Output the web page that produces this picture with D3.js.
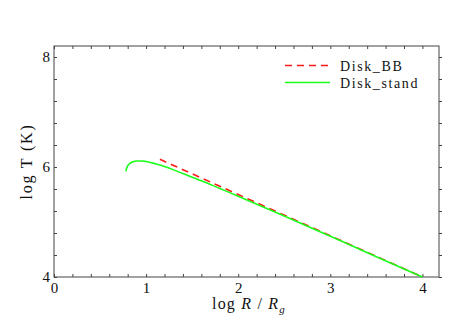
<!DOCTYPE html>
<html>
<head>
<meta charset="utf-8">
<script src="https://cdn.jsdelivr.net/npm/d3@7"></script>
<style>
  html, body { margin: 0; padding: 0; background: #fff; }
  svg { display: block; font-family: "Liberation Serif", "DejaVu Serif", serif; }
</style>
</head>
<body>
<svg id="chart"></svg>
<script>
// Data
const seriesNames = ['Disk_BB', 'Disk_stand'];
const seriesColors = ['#ff1a1a', '#1aff1a'];

const bbLogR = [1.15, 2.0, 3.0, 4.0];
const bbLogT = [6.14, 5.5, 4.75, 4.0];

const standLogR = [0.78, 0.79, 0.80, 0.82, 0.85, 0.90, 0.95, 1.0, 1.1, 1.2, 1.4, 1.6, 1.8, 2.0, 2.5, 3.0, 3.5, 4.0];
const standLogT = [5.92, 5.98, 6.02, 6.06, 6.09, 6.11, 6.11, 6.10, 6.06, 6.01, 5.88, 5.75, 5.61, 5.47, 5.11, 4.74, 4.37, 4.0];

const xTicks = [0, 1, 2, 3, 4];
const yTicks = [4, 6, 8];

const width = 458;
const height = 324;
const margin = { top: 46, right: 19, bottom: 47, left: 54 };

const svg = d3.select('#chart')
  .attr('width', width)
  .attr('height', height);

// Scales
const x = d3.scaleLinear()
  .domain([0, 4.18])
  .range([margin.left, width - margin.right]);

const y = d3.scaleLinear()
  .domain([4, 8.2])
  .range([height - margin.bottom, margin.top]);

const axisColor = '#444';
const textColor = '#111';

const xMinor = d3.range(0, 4.19, 0.2);
const yMinor = d3.range(4, 8.21, 0.4);

// Bottom axis (ticks inside)
svg.append('g')
  .attr('transform', `translate(0,${y.range()[0]})`)
  .call(d3.axisBottom(x).tickValues(xMinor).tickSize(-3).tickFormat(''))
  .call(g => g.select('.domain').remove())
  .attr('color', axisColor);

svg.append('g')
  .attr('transform', `translate(0,${y.range()[0]})`)
  .call(d3.axisBottom(x).tickValues(xTicks).tickSize(0).tickPadding(5).tickFormat(d3.format('d')))
  .call(g => g.select('.domain').remove())
  .selectAll('text')
  .attr('fill', textColor)
  .style('font-size', '15px')
  .style('font-family', '"Liberation Serif", serif');

// Top axis (ticks inside)
svg.append('g')
  .attr('transform', `translate(0,${y.range()[1]})`)
  .call(d3.axisTop(x).tickValues(xMinor).tickSize(-3).tickFormat(''))
  .call(g => g.select('.domain').remove())
  .attr('color', axisColor);

// Left axis (ticks inside)
svg.append('g')
  .attr('transform', `translate(${x.range()[0]},0)`)
  .call(d3.axisLeft(y).tickValues(yMinor).tickSize(-3).tickFormat(''))
  .call(g => g.select('.domain').remove())
  .attr('color', axisColor);

svg.append('g')
  .attr('transform', `translate(${x.range()[0]},0)`)
  .call(d3.axisLeft(y).tickValues(yTicks).tickSize(0).tickPadding(4).tickFormat(d3.format('d')))
  .call(g => g.select('.domain').remove())
  .selectAll('text')
  .attr('fill', textColor)
  .style('font-size', '15px')
  .style('font-family', '"Liberation Serif", serif');

// Right axis (ticks outside)
svg.append('g')
  .attr('transform', `translate(${x.range()[1]},0)`)
  .call(d3.axisRight(y).tickValues(yMinor).tickSize(3).tickFormat(''))
  .call(g => g.select('.domain').remove())
  .attr('color', axisColor);

// Frame
svg.append('rect')
  .attr('x', x.range()[0])
  .attr('y', y.range()[1])
  .attr('width', x.range()[1] - x.range()[0])
  .attr('height', y.range()[0] - y.range()[1])
  .attr('fill', 'none')
  .attr('stroke', axisColor)
  .attr('stroke-width', 1);

// Lines
const line = d3.line()
  .x(d => x(d[0]))
  .y(d => y(d[1]))
  .curve(d3.curveMonotoneX);

const bbData = bbLogR.map((r, i) => [r, bbLogT[i]]);
const standData = standLogR.map((r, i) => [r, standLogT[i]]);

svg.append('path')
  .datum(bbData)
  .attr('fill', 'none')
  .attr('stroke', seriesColors[0])
  .attr('stroke-width', 1.6)
  .attr('stroke-dasharray', '7,5')
  .attr('d', line);

svg.append('path')
  .datum(standData)
  .attr('fill', 'none')
  .attr('stroke', seriesColors[1])
  .attr('stroke-width', 1.6)
  .attr('d', line);

// Legend
const legend = svg.append('g').attr('transform', 'translate(285,65.5)');
seriesNames.forEach((name, i) => {
  const row = legend.append('g').attr('transform', `translate(0,${i * 17})`);
  row.append('line')
    .attr('x1', 0).attr('x2', 45)
    .attr('y1', 0).attr('y2', 0)
    .attr('stroke', seriesColors[i])
    .attr('stroke-width', 1.6)
    .attr('stroke-dasharray', i === 0 ? '7,5' : null);
  row.append('text')
    .attr('x', 55)
    .attr('y', 5)
    .attr('fill', textColor)
    .style('font-size', '14px')
    .style('letter-spacing', '1.6px')
    .text(name);
});

// Axis labels
svg.append('text')
  .attr('transform', `translate(32,${(y.range()[0] + y.range()[1]) / 2}) rotate(-90)`)
  .attr('text-anchor', 'middle')
  .attr('fill', textColor)
  .style('font-size', '16px')
  .style('letter-spacing', '1.8px')
  .text('log T (K)');

const xLabel = svg.append('text')
  .attr('x', 249)
  .attr('y', 309)
  .attr('text-anchor', 'middle')
  .attr('fill', textColor)
  .style('font-size', '16px')
  .style('letter-spacing', '1.2px');
xLabel.append('tspan').text('log ');
xLabel.append('tspan').style('font-style', 'italic').text('R');
xLabel.append('tspan').text(' / ');
xLabel.append('tspan').style('font-style', 'italic').text('R');
xLabel.append('tspan').style('font-style', 'italic').style('font-size', '11px').attr('dy', 4).text('g');
</script>
</body>
</html>
